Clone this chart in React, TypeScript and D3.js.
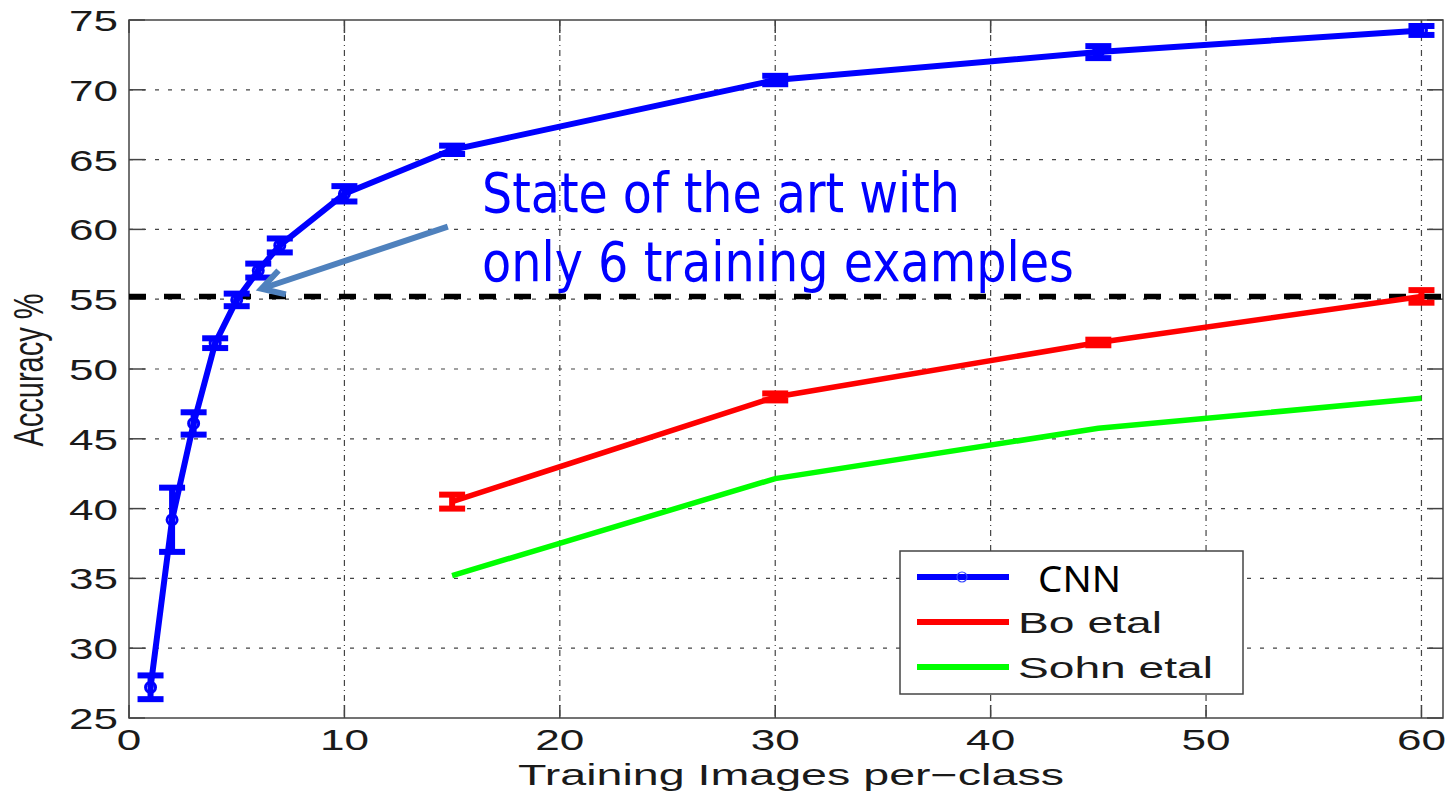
import React from 'react';
import * as d3 from 'd3';

const W = 1456;
const H = 792;

// training images per class
const cnnX = [1, 2, 3, 4, 5, 6, 7, 10, 15, 30, 45, 60];
const cnnY = [27.2, 39.2, 46.1, 51.85, 54.95, 57.05, 58.85, 62.55, 65.7, 70.7, 72.7, 74.25];
const cnnErr = [0.85, 2.3, 0.8, 0.35, 0.45, 0.5, 0.5, 0.55, 0.3, 0.3, 0.43, 0.32];

const boX = [15, 30, 45, 60];
const boY = [40.5, 48.0, 51.9, 55.2];
const boErr = [0.5, 0.25, 0.2, 0.45];

const sohnX = [15, 30, 45, 60];
const sohnY = [35.2, 42.15, 45.75, 47.9];

const stateOfArt = 55.2;

const xTicks = [0, 10, 20, 30, 40, 50, 60];
const yTicks = [25, 30, 35, 40, 45, 50, 55, 60, 65, 70, 75];

const legendItems = ['CNN', 'Bo etal', 'Sohn etal'];
const legendColors = ['#0000ff', '#ff0000', '#00ff00'];

// annotation arrow, in data units: [x, y] tail then head
const arrowFrom = [14.8, 60.2];
const arrowTo = [6.15, 55.75];

const left = 129, right = 1443, top = 20, bottom = 718;
const FONT = '"Liberation Sans", Arial, sans-serif';
const SX = 1.47; // the original figure was stretched sideways

const App: React.FC = () => {
  const x = d3.scaleLinear().domain([0, 61]).range([left, right]);
  const y = d3.scaleLinear().domain([25, 75]).range([bottom, top]);

  const line = d3
    .line<[number, number]>()
    .x((d) => x(d[0]))
    .y((d) => y(d[1]));

  const cnnPts = cnnX.map((v, i) => [v, cnnY[i]] as [number, number]);
  const boPts = boX.map((v, i) => [v, boY[i]] as [number, number]);
  const sohnPts = sohnX.map((v, i) => [v, sohnY[i]] as [number, number]);

  const errBars = (xs: number[], ys: number[], es: number[], color: string, key: string) =>
    xs.map((v, i) => {
      const cx = x(v);
      const y0 = y(ys[i] - es[i]);
      const y1 = y(ys[i] + es[i]);
      return (
        <g key={key + i} stroke={color} strokeWidth={6}>
          <line x1={cx} x2={cx} y1={y0} y2={y1} />
          <line x1={cx - 13} x2={cx + 13} y1={y0} y2={y0} />
          <line x1={cx - 13} x2={cx + 13} y1={y1} y2={y1} />
        </g>
      );
    });

  // arrow head
  const ax0 = x(arrowFrom[0]), ay0 = y(arrowFrom[1]);
  const ax1 = x(arrowTo[0]), ay1 = y(arrowTo[1]);
  const ang = Math.atan2(ay0 - ay1, ax0 - ax1);
  const hl = 25;
  const h1 = [ax1 + hl * Math.cos(ang - 0.5), ay1 + hl * Math.sin(ang - 0.5)];
  const h2 = [ax1 + hl * Math.cos(ang + 0.55), ay1 + hl * Math.sin(ang + 0.55)];

  const lgX0 = 917, lgX1 = 1009;
  const lgY = [577, 622, 667];

  return (
    <svg
      width={W}
      height={H}
      style={{ position: 'absolute', left: 0, top: 0, background: '#fff' }}
    >
      {/* grid */}
      <g stroke="#444" strokeWidth={1.2}>
        {yTicks
          .filter((t) => t > 25 && t < 75)
          .map((t) => (
            <line key={'gy' + t} x1={left} x2={right} y1={y(t)} y2={y(t)} strokeDasharray="4,9" />
          ))}
        {xTicks
          .filter((t) => t > 0)
          .map((t) => (
            <line key={'gx' + t} x1={x(t)} x2={x(t)} y1={top} y2={bottom} strokeDasharray="6,4,1,4" />
          ))}
      </g>

      {/* axis box and ticks */}
      <g stroke="#444" strokeWidth={1.5} fill="none">
        <rect x={left} y={top} width={right - left} height={bottom - top} />
        {yTicks.map((t) => (
          <g key={'ty' + t}>
            <line x1={left} x2={left + 16} y1={y(t)} y2={y(t)} />
            <line x1={right} x2={right - 16} y1={y(t)} y2={y(t)} />
          </g>
        ))}
        {xTicks.map((t) => (
          <g key={'tx' + t}>
            <line x1={x(t)} x2={x(t)} y1={bottom} y2={bottom - 13} />
            <line x1={x(t)} x2={x(t)} y1={top} y2={top + 13} />
          </g>
        ))}
      </g>

      {/* tick labels */}
      <g fontFamily={FONT} fontSize={30} fill="#1a1a1a">
        {yTicks.map((t) => (
          <text
            key={'ly' + t}
            textAnchor="end"
            transform={`translate(118,${y(t) + 11}) scale(${SX},1)`}
          >
            {t}
          </text>
        ))}
        {xTicks.map((t) => (
          <text
            key={'lx' + t}
            textAnchor="middle"
            transform={`translate(${x(t)},750) scale(${SX},1)`}
          >
            {t}
          </text>
        ))}
      </g>

      {/* axis titles */}
      <text
        fontFamily={FONT}
        fontSize={29}
        fill="#1a1a1a"
        textAnchor="middle"
        x={791}
        y={785}
        textLength={546}
        lengthAdjust="spacingAndGlyphs"
      >
        Training Images per−class
      </text>
      <text
        fontFamily={FONT}
        fontSize={29}
        fill="#1a1a1a"
        textAnchor="middle"
        transform={`translate(43,370) scale(${SX},1) rotate(-90)`}
      >
        Accuracy %
      </text>

      {/* state of the art reference line */}
      <line
        x1={left}
        x2={right}
        y1={y(stateOfArt)}
        y2={y(stateOfArt)}
        stroke="#000"
        strokeWidth={5.5}
        strokeDasharray="17,18"
      />

      {/* series */}
      <path d={line(sohnPts) || ''} fill="none" stroke="#00ff00" strokeWidth={5.5} />
      <path d={line(boPts) || ''} fill="none" stroke="#ff0000" strokeWidth={5.5} />
      {errBars(boX, boY, boErr, '#ff0000', 'bo')}
      <path d={line(cnnPts) || ''} fill="none" stroke="#0000ff" strokeWidth={6} strokeLinejoin="round" />
      {errBars(cnnX, cnnY, cnnErr, '#0000ff', 'cnn')}
      {cnnPts.map((p, i) => (
        <circle
          key={'c' + i}
          cx={x(p[0])}
          cy={y(p[1])}
          r={5}
          fill="none"
          stroke="#0000ff"
          strokeWidth={3}
        />
      ))}

      {/* annotation */}
      <g stroke="#4f81bd" strokeWidth={6} fill="none">
        <line x1={ax0} y1={ay0} x2={ax1} y2={ay1} />
        <polyline points={`${h1[0]},${h1[1]} ${ax1},${ay1} ${h2[0]},${h2[1]}`} />
      </g>
      <g fontFamily='"DejaVu Sans", sans-serif' fontSize={56} fill="#0000ff" style={{ fontStretch: 'condensed' }}>
        <text x={482} y={212} textLength={478} lengthAdjust="spacingAndGlyphs">
          State of the art with
        </text>
        <text x={482} y={281} textLength={592} lengthAdjust="spacingAndGlyphs">
          only 6 training examples
        </text>
      </g>

      {/* legend */}
      <rect x={900} y={551} width={343} height={143} fill="#fff" stroke="#444" strokeWidth={1.5} />
      {legendItems.map((name, i) => (
        <line
          key={'lg' + i}
          x1={lgX0}
          x2={lgX1}
          y1={lgY[i]}
          y2={lgY[i]}
          stroke={legendColors[i]}
          strokeWidth={6}
        />
      ))}
      <circle cx={962} cy={lgY[0]} r={5} fill="none" stroke="#3344ff" strokeWidth={1.2} />
      <text x={1038} y={592} fontFamily='"Noto Sans", sans-serif' fontSize={37} fill="#000" textLength={83} lengthAdjust="spacingAndGlyphs">
        {legendItems[0]}
      </text>
      <text x={1018} y={633} fontFamily={FONT} fontSize={29} fill="#1a1a1a" textLength={144} lengthAdjust="spacingAndGlyphs">
        {legendItems[1]}
      </text>
      <text x={1018} y={678} fontFamily={FONT} fontSize={29} fill="#1a1a1a" textLength={195} lengthAdjust="spacingAndGlyphs">
        {legendItems[2]}
      </text>
    </svg>
  );
};

export default App;
